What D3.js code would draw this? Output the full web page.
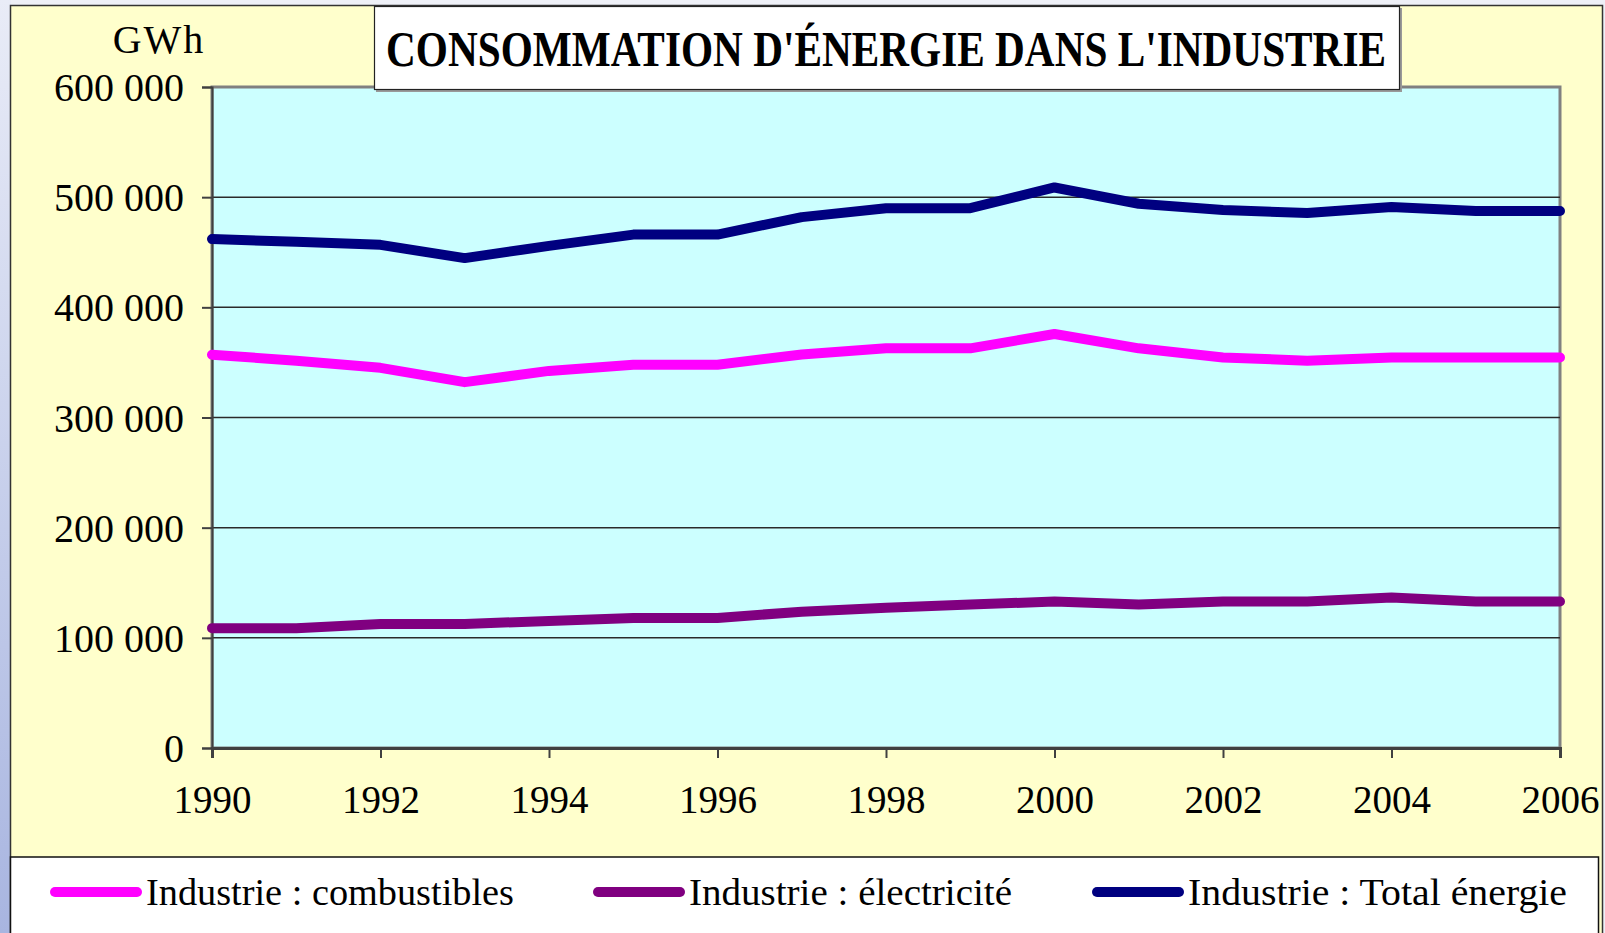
<!DOCTYPE html>
<html>
<head>
<meta charset="utf-8">
<script src="https://cdn.jsdelivr.net/npm/d3@7"></script>
<style>
  html, body { margin: 0; padding: 0; background: #eef0f7; }
  svg { display: block; }
  text { font-family: "Liberation Serif", "Times New Roman", serif; fill: #000; }
</style>
</head>
<body>
<script>
// data
const years = d3.range(1990, 2007);
const combustibles = [357000, 351600, 345100, 332100, 342300, 347900, 347900, 357200, 362800, 362800, 375800, 362800, 354400, 351600, 354400, 354400, 354400];
const electricite = [108800, 108800, 112600, 112600, 115300, 118100, 118100, 123700, 127400, 130200, 133000, 130200, 133000, 133000, 136700, 133000, 133000];
const total = [462000, 459500, 456700, 444700, 455800, 466000, 466000, 481900, 490000, 490000, 508800, 494000, 488400, 485600, 491000, 487400, 487400];
const seriesNames = ["Industrie : combustibles", "Industrie : électricité", "Industrie : Total énergie"];
const seriesColors = ["#ff00ff", "#800080", "#000080"];
const yTicks = [0, 100000, 200000, 300000, 400000, 500000, 600000];
const xTicks = d3.range(1990, 2007, 2);

const W = 1605, H = 933;
const plot = {left: 212, right: 1560, top: 87, bottom: 748};

const svg = d3.select("body").append("svg")
    .attr("width", W)
    .attr("height", H);

// page background: left blue strip
const defs = svg.append("defs");
const grad = defs.append("linearGradient")
    .attr("id", "side").attr("x1", 0).attr("y1", 0).attr("x2", 0).attr("y2", 1);
grad.append("stop").attr("offset", "0%").attr("stop-color", "#e9ecf7");
grad.append("stop").attr("offset", "100%").attr("stop-color", "#a8b5e0");
svg.append("rect").attr("x", 0).attr("y", 0).attr("width", W).attr("height", H).attr("fill", "#eef0f7");
svg.append("rect").attr("x", 0).attr("y", 0).attr("width", 11).attr("height", H).attr("fill", "url(#side)");

// yellow chart panel
svg.append("rect")
    .attr("x", 10.5).attr("y", 5.5)
    .attr("width", 1592).attr("height", 940)
    .attr("fill", "#ffffcc")
    .attr("stroke", "#333").attr("stroke-width", 1.5);

const x = d3.scaleLinear().domain([1990, 2006]).range([plot.left, plot.right]);
const y = d3.scaleLinear().domain([0, 600000]).range([plot.bottom, plot.top]);

// plot area
svg.append("rect")
    .attr("x", plot.left).attr("y", plot.top)
    .attr("width", plot.right - plot.left).attr("height", plot.bottom - plot.top)
    .attr("fill", "#ccffff")
    .attr("stroke", "#808080").attr("stroke-width", 3);

// gridlines
svg.append("g")
    .selectAll("line")
    .data(yTicks.filter(d => d > 0 && d < 600000))
    .enter().append("line")
    .attr("x1", plot.left).attr("x2", plot.right)
    .attr("y1", d => y(d)).attr("y2", d => y(d))
    .attr("stroke", "#2a2a2a").attr("stroke-width", 1.5);

// y axis
const yAxis = d3.axisLeft(y)
    .tickValues(yTicks)
    .tickSize(10)
    .tickPadding(18)
    .tickFormat(d => d3.format(",")(d).replace(/,/g, " "));
const gy = svg.append("g")
    .attr("transform", `translate(${plot.left},0)`)
    .call(yAxis);
gy.select(".domain").attr("stroke", "#404040").attr("stroke-width", 2);
gy.selectAll(".tick line").attr("stroke", "#404040").attr("stroke-width", 2);
gy.selectAll(".tick text")
    .attr("font-family", "Liberation Serif")
    .attr("font-size", 40)
    .attr("dy", "0.34em");

// x axis
const xAxis = d3.axisBottom(x)
    .tickValues(xTicks)
    .tickSize(10)
    .tickPadding(27)
    .tickFormat(d3.format("d"));
const gx = svg.append("g")
    .attr("transform", `translate(0,${plot.bottom})`)
    .call(xAxis);
gx.select(".domain").attr("stroke", "#404040").attr("stroke-width", 3);
gx.selectAll(".tick line").attr("stroke", "#404040").attr("stroke-width", 2);
gx.selectAll(".tick text")
    .attr("font-family", "Liberation Serif")
    .attr("font-size", 39);

// GWh unit
svg.append("text")
    .attr("x", 159).attr("y", 53)
    .attr("text-anchor", "middle")
    .attr("font-size", 40)
    .attr("letter-spacing", 2)
    .text("GWh");

// lines
const allSeries = [combustibles, electricite, total];
const line = d3.line()
    .x((d, i) => x(years[i]))
    .y(d => y(d));
svg.append("g")
    .selectAll("path")
    .data(allSeries)
    .enter().append("path")
    .attr("d", d => line(d))
    .attr("fill", "none")
    .attr("stroke", (d, i) => seriesColors[i])
    .attr("stroke-width", 10)
    .attr("stroke-linejoin", "round")
    .attr("stroke-linecap", "round");

// title box
svg.append("rect")
    .attr("x", 376).attr("y", 8)
    .attr("width", 1026).attr("height", 84)
    .attr("fill", "#999");
svg.append("rect")
    .attr("x", 374.5).attr("y", 6.5)
    .attr("width", 1025).attr("height", 83)
    .attr("fill", "#fff")
    .attr("stroke", "#222").attr("stroke-width", 1.2);
// narrow, tall bold title: smaller font stretched vertically
svg.append("text")
    .attr("transform", "translate(386,66) scale(1,1.32)")
    .attr("font-size", 39)
    .attr("font-weight", "bold")
    .attr("textLength", 1000)
    .attr("lengthAdjust", "spacingAndGlyphs")
    .text("CONSOMMATION D'ÉNERGIE DANS L'INDUSTRIE");

// legend
svg.append("rect")
    .attr("x", 10.5).attr("y", 857)
    .attr("width", 1588).attr("height", 100)
    .attr("fill", "#fff")
    .attr("stroke", "#111").attr("stroke-width", 1.5);
const legendX = [50, 593, 1092];
const legendTextW = [368, 323, 379];
const lg = svg.append("g")
    .selectAll("g")
    .data(seriesNames)
    .enter().append("g")
    .attr("transform", (d, i) => `translate(${legendX[i]},892)`);
lg.append("line")
    .attr("x1", 5).attr("x2", 87)
    .attr("stroke", (d, i) => seriesColors[i])
    .attr("stroke-width", 10)
    .attr("stroke-linecap", "round");
lg.append("text")
    .attr("x", 96).attr("y", 13)
    .attr("font-size", 37)
    .attr("textLength", (d, i) => legendTextW[i])
    .attr("lengthAdjust", "spacingAndGlyphs")
    .text(d => d);
</script>
</body>
</html>
